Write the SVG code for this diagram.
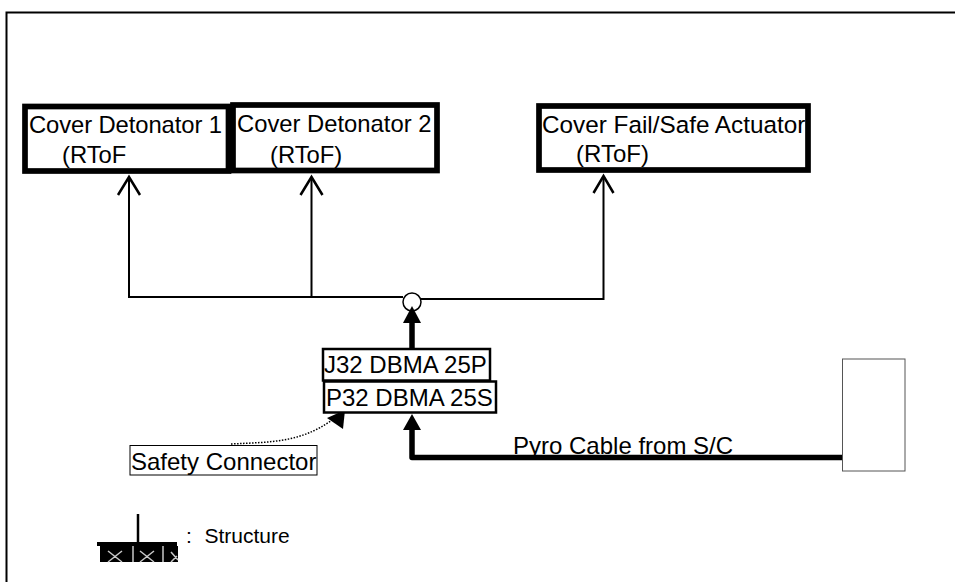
<svg xmlns="http://www.w3.org/2000/svg" width="955" height="582" viewBox="0 0 955 582">
<style>
text{font-family:"Liberation Sans",Arial,sans-serif;fill:#000}
.t{font-size:24px}
.d{font-size:23.8px}
.a{font-size:24.3px}
.big{fill:#fff;stroke:#000;stroke-width:5.7}
.conn{fill:#fff;stroke:#000;stroke-width:2.5}
.w{fill:none;stroke:#000;stroke-width:2}
.bar{fill:none;stroke:#000;stroke-width:5.5;stroke-linejoin:round}
.open{fill:none;stroke:#000;stroke-width:2.5}
.x{stroke:#c8c8c8;stroke-width:1.5;fill:none}
</style>
<rect width="955" height="582" fill="#fff"/>
<path d="M6.500 582V12.500H955" fill="none" stroke="#000" stroke-width="2"/>
<g id="connectors">
<path class="w" d="M129 178V297H403M311.500 178V297M421 299H603.500V178"/>
<path class="open" d="M118 195L129 177L140 195M300.500 195L311.500 177L322.500 195M593.500 193L603.500 176L613.500 193"/>
<path class="bar" d="M412 348V320"/>
<path class="bar" d="M412 428V457.500H843"/>
<path d="M412 414L421 430H403Z"/>
<path d="M231 444C270 442 300 443 332 420" fill="none" stroke="#000" stroke-width="1.500" stroke-dasharray="1.500 1.500"/>
<path d="M345 410L327 418L343 429Z"/>
</g>
<g id="node-det1"><rect class="big" x="25" y="106.500" width="203.500" height="64.500"/><text class="d" x="29" y="132.500" textLength="193">Cover Detonator 1</text><text class="d" x="62" y="163">(RToF</text></g>
<g id="node-det2"><rect class="big" x="233" y="105" width="204" height="65.500"/><text class="d" x="237" y="132">Cover Detonator 2</text><text class="d" x="270" y="163">(RToF)</text></g>
<g id="node-act"><rect class="big" x="539" y="106" width="269" height="64"/><text class="a" x="542" y="133">Cover Fail/Safe Actuator</text><text class="t" x="576" y="162">(RToF)</text></g>
<g id="node-junction"><circle cx="412" cy="302" r="9" fill="#fff" stroke="#000" stroke-width="1.500"/><path d="M412 306L421 323H403Z"/></g>
<g id="node-p32"><rect class="conn" x="324" y="381.500" width="172" height="31"/><text class="t" x="326" y="406">P32 DBMA 25S</text></g>
<g id="node-j32"><rect class="conn" x="323" y="349" width="167" height="31.500"/><text class="t" x="324" y="373">J32 DBMA 25P</text></g>
<g id="node-safety"><rect x="130" y="445.500" width="187" height="29.500" fill="#fff" stroke="#000" stroke-width="1"/><text class="t" x="131" y="470">Safety Connector</text></g>
<g id="node-sc"><rect x="842.500" y="359" width="62.500" height="112" fill="#fff" stroke="#555" stroke-width="1"/></g>
<text class="t" x="513" y="453.500">Pyro Cable from S/C</text>
<g id="legend">
<path d="M138 514V543" stroke="#000" stroke-width="2.500" fill="none"/>
<path d="M97 542H177V546H178V562H100V546H97Z"/>
<path class="x" d="M133 546V562M163 546V562M108 562L122 551M108 551L122 562M140 562L154 551M140 551L154 562M171 562L177 556M171 552L178 560"/>
<text x="186" y="543" font-size="21">:</text>
<text x="204.500" y="543" font-size="21">Structure</text>
</g>
</svg>
